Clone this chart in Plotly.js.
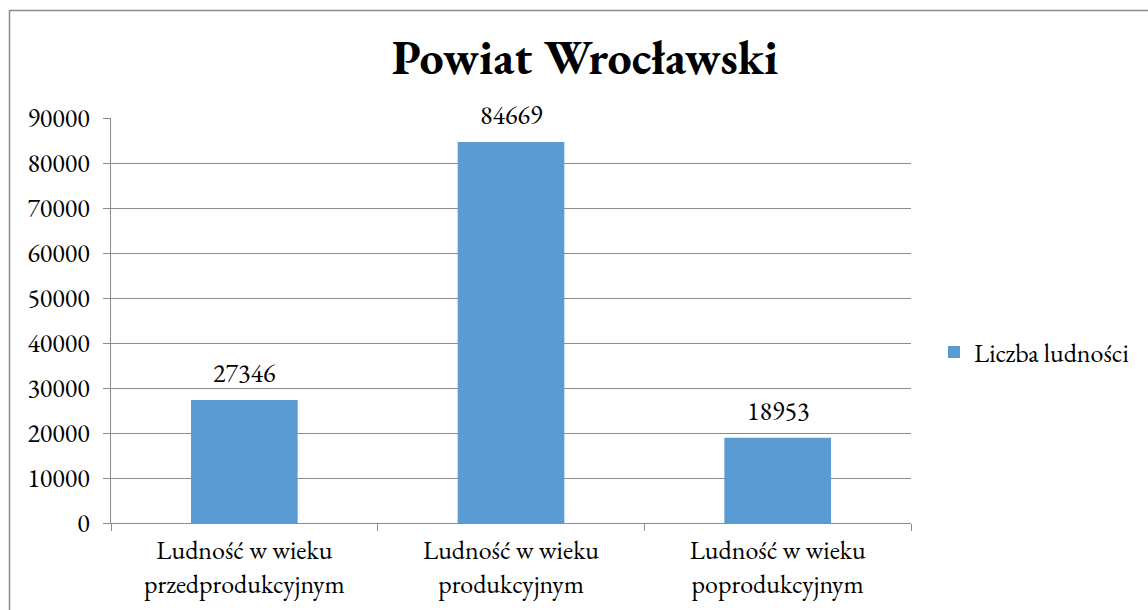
<!DOCTYPE html>
<html>
<head>
<meta charset="utf-8">
<script src="https://cdn.plot.ly/plotly-3.0.1.min.js"></script>
<style>html,body{margin:0;padding:0;background:#fff;}#chart{width:1148px;height:610px;}</style>
</head>
<body>
<div id="chart"></div>
<script>
const categories = ["Ludność w wieku<br>przedprodukcyjnym", "Ludność w wieku<br>produkcyjnym", "Ludność w wieku<br>poprodukcyjnym"];
const values = [27346, 84669, 18953];
const seriesName = "Liczba ludności";
const chartTitle = "Powiat Wrocławski";

const FONT = "EB Garamond";
const gray = "#8c8c8c";
const FS = 26;

const trace = {
  type: "bar",
  x: categories,
  y: values,
  name: seriesName,
  marker: {color: "#5B9BD5"},
  hoverinfo: "none",
  showlegend: true
};

const annotations = categories.map((c, i) => ({
  x: c, y: values[i], xref: "x", yref: "y",
  text: String(values[i]), showarrow: false,
  yanchor: "bottom", yshift: 8,
  font: {family: FONT, size: FS, color: "#000"}
}));

const layout = {
  width: 1148, height: 610,
  margin: {l: 111, r: 237, t: 118, b: 87, pad: 0, autoexpand: false},
  paper_bgcolor: "#fff", plot_bgcolor: "#fff",
  font: {family: FONT, size: FS, color: "#000"},
  title: {text: "<b>" + chartTitle + "</b>", font: {family: FONT, size: 48, color: "#000"},
          x: 585/1148, xref: "container", xanchor: "center", y: 1 - 57/610, yref: "container", yanchor: "middle"},
  bargap: 0.6,
  xaxis: {
    type: "category", tickson: "boundaries", ticks: "outside", ticklen: 7, tickcolor: gray,
    showline: true, linecolor: gray, linewidth: 1, showgrid: false, ticklabelstandoff: 4,
    tickfont: {family: FONT, size: FS, color: "#000"}
  },
  yaxis: {
    range: [0, 90000], dtick: 10000, tick0: 0, ticks: "outside", ticklen: 7, tickcolor: gray,
    showline: true, linecolor: gray, linewidth: 1, ticklabelstandoff: 8,
    showgrid: true, gridcolor: gray, gridwidth: 1, zeroline: false,
    tickformat: "d",
    tickfont: {family: FONT, size: FS, color: "#000"}
  },
  legend: {x: 934/1148, xref: "container", xanchor: "left", y: 1 - 352/610, yref: "container", yanchor: "middle",
           font: {family: FONT, size: FS, color: "#000"}, bgcolor: "rgba(0,0,0,0)"},
  annotations: annotations,
  shapes: [{
    type: "rect", xref: "paper", yref: "paper",
    x0: (9.5 - 111) / 800, x1: (1160 - 111) / 800,
    y0: (523 - 640) / 405, y1: (523 - 10.5) / 405,
    line: {color: "#8c8c8c", width: 1.5}, fillcolor: "rgba(0,0,0,0)", layer: "below"
  }]
};

Plotly.newPlot("chart", [trace], layout, {displayModeBar: false, staticPlot: true});
</script>
</body>
</html>
